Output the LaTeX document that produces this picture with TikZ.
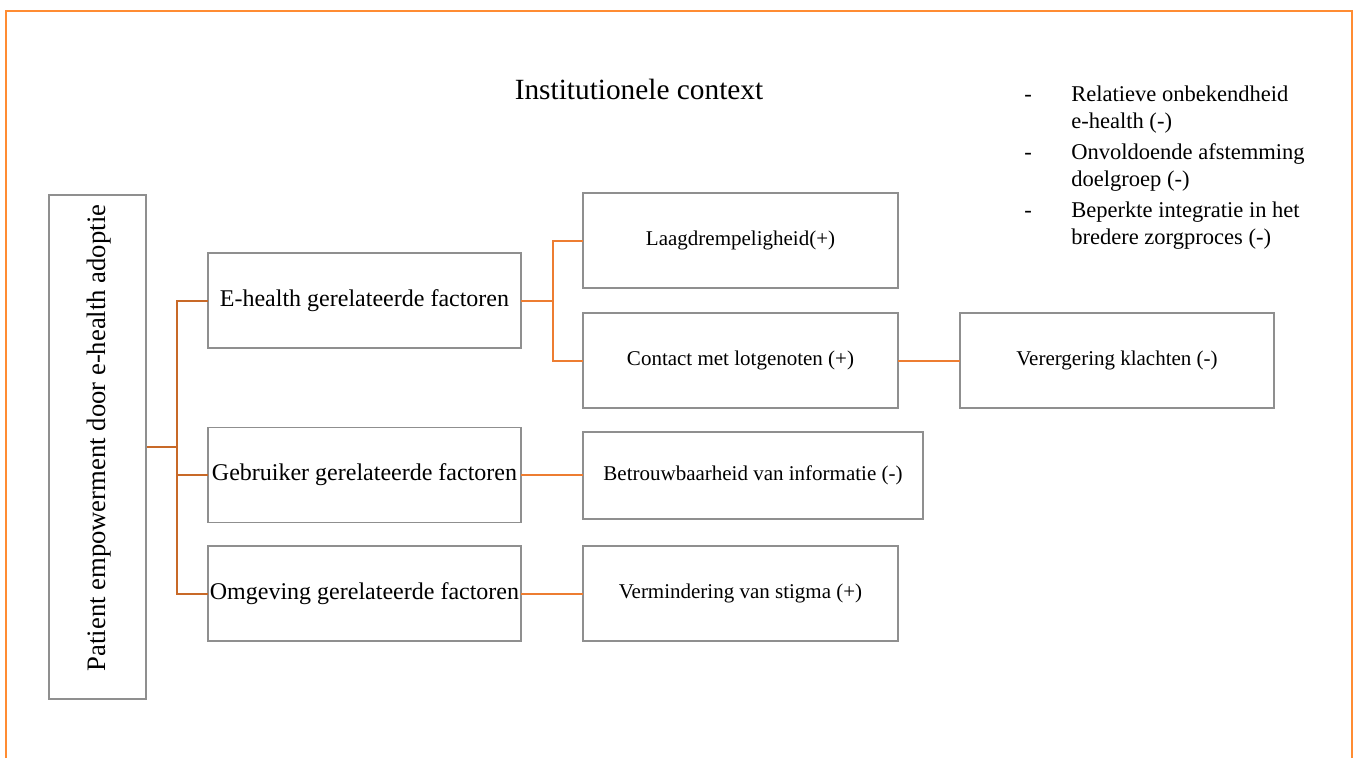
\documentclass[tikz,border=0pt]{standalone}
\usepackage{fontspec}
\setmainfont{Liberation Serif}
\definecolor{frameorange}{RGB}{255,140,50}
\definecolor{linkdark}{RGB}{200,105,40}
\definecolor{linkbright}{RGB}{237,125,49}
\definecolor{boxgray}{RGB}{143,143,143}
\tikzset{
  factorbox/.style={draw=boxgray, line width=0.8pt, fill=white, inner sep=0pt, outer sep=0pt,
    minimum width=234.75pt, minimum height=71.25pt, font=\fontsize{18}{21}\selectfont},
  effectbox/.style={draw=boxgray, line width=0.8pt, fill=white, inner sep=0pt, outer sep=0pt,
    minimum width=236.25pt, minimum height=71.25pt, font=\fontsize{15.75}{18}\selectfont},
  linkone/.style={draw=linkdark, line width=1.5pt},
  linktwo/.style={draw=linkbright, line width=1.5pt},
  listline/.style={anchor=base west, inner sep=0pt, font=\fontsize{16.9}{20}\selectfont}
}
\begin{document}
\begin{tikzpicture}[x=0.75pt, y=-0.75pt]
  % page area
  \fill[white] (0,0) rectangle (1359,758);
  \useasboundingbox (0,0) rectangle (1359,758);

  % open outer frame (no bottom edge)
  \draw[frameorange, line width=2pt] (6,758) -- (6,11) -- (1352,11) -- (1352,758);

  % heading
  \node[anchor=base, inner sep=0pt, font=\fontsize{22}{26}\selectfont] (title) at (639,99) {Institutionele context};

  % institutional factors list
  \node[listline] (d1) at (1024,101) {-};
  \node[listline] (d2) at (1024,159) {-};
  \node[listline] (d3) at (1024,217) {-};
  \node[listline] (l1) at (1071,101) {Relatieve onbekendheid};
  \node[listline] (l2) at (1071,128) {e-health (-)};
  \node[listline] (l3) at (1071,159) {Onvoldoende afstemming};
  \node[listline] (l4) at (1071,186) {doelgroep (-)};
  \node[listline] (l5) at (1071,217) {Beperkte integratie in het};
  \node[listline] (l6) at (1071,244) {bredere zorgproces (-)};

  % root
  \node[draw=boxgray, line width=0.8pt, fill=white, inner sep=0pt, minimum width=72.75pt, minimum height=378pt] (root) at (97.5,447) {};
  \node[rotate=90, inner sep=0pt, font=\fontsize{20}{24}\selectfont] (rootlabel) at (99,438) {Patient empowerment door e-health adoptie};

  % factor groups
  \node[factorbox] (ehealth) at (364.5,300.5) {E-health gerelateerde factoren};
  \node[factorbox] (gebruiker) at (364.5,475) {Gebruiker gerelateerde factoren};
  \node[factorbox] (omgeving) at (364.5,593.5) {Omgeving gerelateerde factoren};

  % effects
  \node[effectbox] (laag) at (740.5,240.5) {Laagdrempeligheid(+)};
  \node[effectbox] (contact) at (740.5,360.5) {Contact met lotgenoten (+)};
  \node[effectbox, minimum width=235.5pt] (verergering) at (1117,360.5) {Verergering klachten (-)};
  \node[effectbox, minimum width=255pt, minimum height=65.25pt] (betrouw) at (753,475.5) {Betrouwbaarheid van informatie (-)};
  \node[effectbox] (vermindering) at (740.5,593.5) {Vermindering van stigma (+)};

  % junctions
  \coordinate (j1) at (177,447);
  \coordinate (j2) at (553,300.5);

  % first level connectors
  \draw[linkone] (root.east) -- (j1);
  \draw[linkone] (j1) |- (ehealth.west);
  \draw[linkone] (j1) |- (gebruiker.west);
  \draw[linkone] (j1) |- (omgeving.west);

  % second level connectors
  \draw[linktwo] (ehealth.east) -- (j2);
  \draw[linktwo] (j2) |- (laag.west);
  \draw[linktwo] (j2) |- (contact.west);
  \draw[linktwo] (contact.east) -- (verergering.west);
  \draw[linktwo] (gebruiker.east) -- (gebruiker.east -| betrouw.west);
  \draw[linktwo] (omgeving.east) -- (vermindering.west);
\end{tikzpicture}
\end{document}
